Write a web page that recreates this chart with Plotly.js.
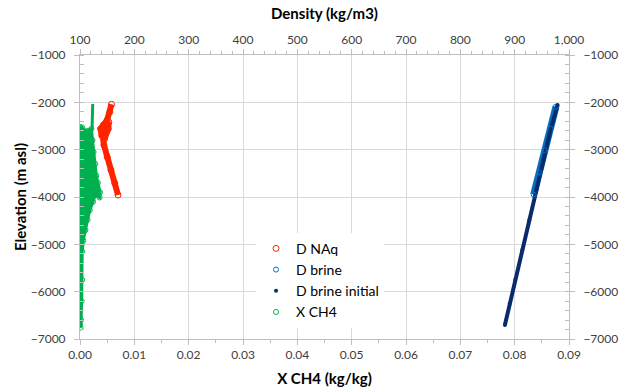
<!DOCTYPE html>
<html>
<head>
<meta charset="utf-8">
<script src="https://cdn.plot.ly/plotly-3.0.1.min.js"></script>
<style>html,body{margin:0;padding:0;background:#fff;}#chart{width:623px;height:392px;}</style>
</head>
<body>
<div id="chart"></div>
<script>
// ---- Data ----
// D NAq: density (kg/m3) vs elevation (m asl)
var dnaqDensity = [158, 155, 150, 143, 138, 140, 145, 152, 153, 148, 141, 144, 150, 157, 164, 170];
var dnaqElev    = [-2040, -2205, -2373, -2480, -2560, -2700, -2780, -2560, -2420, -2500, -2640, -2900, -3155, -3430, -3705, -3958];

// D brine: density (kg/m3) vs elevation
var brineDensity = [976, 966, 955, 945, 935];
var brineElev    = [-2090, -2560, -3010, -3480, -3950];

// D brine initial: density (kg/m3) vs elevation
var brineInitDensity = [979, 966, 953, 940, 927, 914, 901, 891, 882];
var brineInitElev    = [-2056, -2585, -3219, -3852, -4486, -5120, -5754, -6250, -6705];

// X CH4 (kg/kg) vs elevation: outline of the dense point cloud
var xch4Value = [0.0000, 0.0004, 0.0006, 0.0010, 0.0015, 0.0021, 0.0023, 0.0025, 0.0028, 0.0030, 0.0033, 0.0037, 0.0036, 0.0028, 0.0024, 0.0018, 0.0014, 0.0010, 0.0006, 0.0004, 0.0004, 0.0003, 0.0002, 0.0001, 0.0000, 0.0000];
var xch4Elev  = [-2520, -2530, -2590, -2620, -2600, -2560, -2800, -3050, -3300, -3550, -3700, -3900, -4010, -3960, -4100, -4280, -4480, -4700, -4920, -5150, -5750, -6200, -6600, -6760, -6700, -4500];
// X CH4 vertical spike above the cloud
var spikeValue = [0.00234, 0.00228, 0.00222];
var spikeElev  = [-2035, -2300, -2560];

var red = '#ff2400', lblue = '#0070c0', navy = '#0b2a6b', green = '#00b050';

var traces = [
  // underlying thick bands (no legend)
  {x: dnaqDensity, y: dnaqElev, xaxis: 'x2', yaxis: 'y', mode: 'lines', line: {color: red, width: 6}, showlegend: false, hoverinfo: 'skip'},
  {x: brineDensity, y: brineElev, xaxis: 'x2', yaxis: 'y', mode: 'lines', line: {color: lblue, width: 7}, showlegend: false, hoverinfo: 'skip'},
  {x: brineInitDensity, y: brineInitElev, xaxis: 'x2', yaxis: 'y', mode: 'lines', line: {color: navy, width: 4}, showlegend: false, hoverinfo: 'skip'},
  {x: xch4Value, y: xch4Elev, xaxis: 'x', yaxis: 'y', mode: 'lines', fill: 'toself', fillcolor: green, line: {color: green, width: 3}, showlegend: false, hoverinfo: 'skip'},
  {x: spikeValue, y: spikeElev, xaxis: 'x', yaxis: 'y', mode: 'lines', line: {color: green, width: 3}, showlegend: false, hoverinfo: 'skip'},
  // marker series (legend entries)
  {name: 'D NAq', x: dnaqDensity, y: dnaqElev, xaxis: 'x2', yaxis: 'y', mode: 'markers', marker: {symbol: 'circle-open', size: 6, color: red, line: {width: 1}}},
  {name: 'D brine', x: brineDensity, y: brineElev, xaxis: 'x2', yaxis: 'y', mode: 'markers', marker: {symbol: 'circle-open', size: 5, color: lblue, line: {width: 1}}},
  {name: 'D brine initial', x: brineInitDensity, y: brineInitElev, xaxis: 'x2', yaxis: 'y', mode: 'markers', marker: {symbol: 'circle', size: 4, color: navy}},
  {name: 'X CH4', x: xch4Value, y: xch4Elev, xaxis: 'x', yaxis: 'y', mode: 'markers', marker: {symbol: 'circle-open', size: 5, color: green, line: {width: 1}}},
  {x: [0.05], y: [-4000], xaxis: 'x', yaxis: 'y2', mode: 'markers', marker: {size: 0, opacity: 0}, showlegend: false, hoverinfo: 'skip'}
];

var font = {family: 'Lato, "Open Sans", sans-serif', size: 12, color: '#404040'};
var titleFont = {family: 'Lato, "Open Sans", sans-serif', size: 15, color: '#000', weight: 'bold'};
var axisCommon = {showline: true, linecolor: '#bfbfbf', linewidth: 1, ticks: 'outside', ticklen: 5, tickcolor: '#bfbfbf', zeroline: false, tickfont: font};

var layout = {
  width: 623, height: 392,
  margin: {l: 80, r: 54, t: 55, b: 53},
  paper_bgcolor: '#fff', plot_bgcolor: '#fff',
  font: font,
  showlegend: true,
  legend: {x: 0.36, y: 0.374, xanchor: 'left', yanchor: 'top', bgcolor: '#fff', itemwidth: 30, font: {family: 'Lato, "Open Sans", sans-serif', size: 14, color: '#000'}, tracegroupgap: 0},
  xaxis: Object.assign({}, axisCommon, {
    range: [0, 0.09], dtick: 0.01, tick0: 0, tickformat: '.2f', side: 'bottom', anchor: 'y',
    showgrid: true, gridcolor: '#d9d9d9',
    minor: {dtick: 0.005, ticks: 'outside', ticklen: 3, tickcolor: '#bfbfbf', showgrid: false},
    title: {text: 'X CH4 (kg/kg)', font: titleFont, standoff: 12}
  }),
  xaxis2: Object.assign({}, axisCommon, {
    range: [100, 1000], dtick: 100, tick0: 100, tickformat: ',', side: 'top', overlaying: 'x', anchor: 'y',
    showgrid: false,
    minor: {dtick: 20, ticks: 'outside', ticklen: 3, tickcolor: '#bfbfbf', showgrid: false},
    title: {text: 'Density (kg/m3)', font: titleFont, standoff: 8}
  }),
  yaxis: Object.assign({}, axisCommon, {
    range: [-7000, -1000], dtick: 1000, tick0: -7000, side: 'left', anchor: 'x',
    showgrid: true, gridcolor: '#d9d9d9', ticklabelstandoff: 6,
    minor: {dtick: 200, ticks: 'inside', ticklen: 4, tickcolor: '#bfbfbf', showgrid: false},
    title: {text: 'Elevation (m asl)', font: titleFont, standoff: 0}
  }),
  yaxis2: Object.assign({}, axisCommon, {
    range: [-7000, -1000], dtick: 1000, tick0: -7000, side: 'right', overlaying: 'y', anchor: 'x',
    showgrid: false, ticklabelstandoff: 6,
    minor: {dtick: 200, ticks: 'inside', ticklen: 4, tickcolor: '#bfbfbf', showgrid: false}
  })
};

Plotly.newPlot('chart', traces, layout, {displayModeBar: false, staticPlot: true});
</script>
</body>
</html>
